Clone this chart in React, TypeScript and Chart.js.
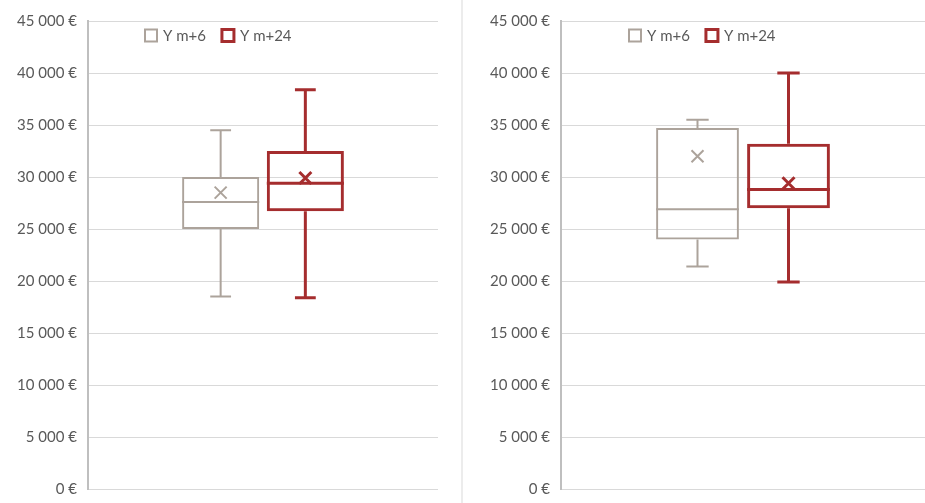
import React, { useEffect, useRef } from 'react';
import { Chart, registerables } from 'chart.js';
Chart.register(...registerables);

const seriesNames = ['Y m+6', 'Y m+24'];
const seriesColors = ['#ACA39B', '#A52D2E'];
const seriesLineWidths = [2, 3];

// Left panel statistics (per series)
const leftMin = [18500, 18400];
const leftQ1 = [25000, 26700];
const leftMedian = [27600, 29400];
const leftQ3 = [30000, 32500];
const leftMax = [34500, 38400];
const leftMean = [28500, 29900];

// Right panel statistics (per series)
const rightMin = [21400, 19900];
const rightQ1 = [24000, 27000];
const rightMedian = [26900, 28800];
const rightQ3 = [34700, 33200];
const rightMax = [35500, 40000];
const rightMean = [32000, 29400];

const yMin = 0;
const yMax = 45000;
const yStep = 5000;

const fmtEuro = (v: number) =>
  String(Math.round(v)).replace(/\B(?=(\d{3})+(?!\d))/g, ' ') + ' €';

const FONT_FAMILY = 'Lato, "Open Sans", sans-serif';
const TEXT_COLOR = '#595959';

const boxExtrasPlugin = {
  id: 'boxExtras',
  afterDatasetsDraw(chart: any) {
    const { ctx } = chart;
    const y = chart.scales.y;
    chart.data.datasets.forEach((ds: any, i: number) => {
      const meta = chart.getDatasetMeta(i);
      const bar: any = meta.data[0];
      if (!bar) return;
      const x = bar.x;
      const w = bar.width;
      const lw = ds.borderWidth;
      const capHalf = w * 0.135;
      const yq1 = y.getPixelForValue(ds.data[0][0]);
      const yq3 = y.getPixelForValue(ds.data[0][1]);
      const ymin = y.getPixelForValue(ds.stats.min);
      const ymax = y.getPixelForValue(ds.stats.max);
      const ymed = y.getPixelForValue(ds.stats.median);
      const ymean = y.getPixelForValue(ds.stats.mean);
      ctx.save();
      ctx.strokeStyle = ds.borderColor;
      ctx.lineWidth = lw;
      ctx.beginPath();
      // upper whisker + cap
      ctx.moveTo(x, yq3);
      ctx.lineTo(x, ymax);
      ctx.moveTo(x - capHalf, ymax);
      ctx.lineTo(x + capHalf, ymax);
      // lower whisker + cap
      ctx.moveTo(x, yq1);
      ctx.lineTo(x, ymin);
      ctx.moveTo(x - capHalf, ymin);
      ctx.lineTo(x + capHalf, ymin);
      // median
      ctx.moveTo(x - w / 2, ymed);
      ctx.lineTo(x + w / 2, ymed);
      ctx.stroke();
      // mean marker (x)
      const m = 6;
      ctx.lineWidth = ds.meanWidth;
      ctx.beginPath();
      ctx.moveTo(x - m, ymean - m);
      ctx.lineTo(x + m, ymean + m);
      ctx.moveTo(x + m, ymean - m);
      ctx.lineTo(x - m, ymean + m);
      ctx.stroke();
      ctx.restore();
    });
  },
};

const legendPlugin = {
  id: 'insideLegend',
  afterDraw(chart: any, _args: any, opts: any) {
    const { ctx, chartArea } = chart;
    let x = chartArea.left + opts.offsetX;
    const cy = opts.centerY;
    const sq = 12;
    ctx.save();
    ctx.font = '15px ' + FONT_FAMILY;
    ctx.textBaseline = 'middle';
    ctx.textAlign = 'left';
    chart.data.datasets.forEach((ds: any) => {
      ctx.fillStyle = '#ffffff';
      ctx.fillRect(x, cy - sq / 2, sq, sq);
      ctx.strokeStyle = ds.borderColor;
      ctx.lineWidth = ds.borderWidth;
      ctx.strokeRect(x, cy - sq / 2, sq, sq);
      x += sq + 6;
      ctx.fillStyle = TEXT_COLOR;
      ctx.fillText(ds.label, x, cy + 1);
      x += ctx.measureText(ds.label).width + 16;
    });
    ctx.restore();
  },
};

type PanelProps = {
  mins: number[];
  q1s: number[];
  medians: number[];
  q3s: number[];
  maxs: number[];
  means: number[];
  width: number;
  axisWidth: number;
  padRight: number;
  catPct: number;
  legendOffset: number;
};

function BoxPanel(p: PanelProps) {
  const ref = useRef<HTMLCanvasElement>(null);
  useEffect(() => {
    if (!ref.current) return;
    const datasets = seriesNames.map((name, i) => ({
      label: name,
      data: [[p.q1s[i], p.q3s[i]]],
      stats: { min: p.mins[i], max: p.maxs[i], median: p.medians[i], mean: p.means[i] },
      backgroundColor: 'rgba(255,255,255,0)',
      borderColor: seriesColors[i],
      borderWidth: seriesLineWidths[i],
      meanWidth: seriesLineWidths[i],
      borderSkipped: false,
      categoryPercentage: p.catPct,
      barPercentage: 0.91,
    }));
    const chart = new Chart(ref.current, {
      type: 'bar',
      data: { labels: [''], datasets: datasets as any },
      plugins: [boxExtrasPlugin, legendPlugin],
      options: {
        animation: false,
        responsive: false,
        layout: { padding: { top: 21, bottom: 14, left: 0, right: p.padRight } },
        plugins: {
          legend: { display: false },
          tooltip: { enabled: false },
          insideLegend: { offsetX: p.legendOffset, centerY: 35.5 },
        } as any,
        scales: {
          x: { display: false },
          y: {
            min: yMin,
            max: yMax,
            afterFit: (s: any) => {
              s.width = p.axisWidth;
              s.paddingTop = 0;
              s.paddingBottom = 0;
            },
            ticks: {
              stepSize: yStep,
              callback: (v: any) => fmtEuro(Number(v)),
              color: TEXT_COLOR,
              font: { family: FONT_FAMILY, size: 15 },
              padding: 11,
            },
            grid: { color: '#D9D9D9', lineWidth: 1, drawTicks: false },
            border: { color: '#BFBFBF', width: 2 },
          },
        },
      } as any,
    });
    return () => chart.destroy();
  }, []);
  return <canvas ref={ref} width={p.width} height={503} />;
}

export default function App() {
  return (
    <div
      style={{
        position: 'fixed',
        left: 0,
        top: 0,
        width: 925,
        height: 503,
        background: '#ffffff',
        overflow: 'hidden',
      }}
    >
      <div style={{ position: 'absolute', left: 0, top: 0, width: 460, height: 503 }}>
        <BoxPanel
          mins={leftMin}
          q1s={leftQ1}
          medians={leftMedian}
          q3s={leftQ3}
          maxs={leftMax}
          means={leftMean}
          width={460}
          axisWidth={88}
          padRight={22}
          catPct={0.484}
          legendOffset={57}
        />
      </div>
      <div
        style={{ position: 'absolute', left: 461, top: 0, width: 2, height: 503, background: '#ECECEC' }}
      />
      <div style={{ position: 'absolute', left: 462, top: 0, width: 463, height: 503 }}>
        <BoxPanel
          mins={rightMin}
          q1s={rightQ1}
          medians={rightMedian}
          q3s={rightQ3}
          maxs={rightMax}
          means={rightMean}
          width={463}
          axisWidth={99}
          padRight={0}
          catPct={0.5}
          legendOffset={68}
        />
      </div>
    </div>
  );
}
